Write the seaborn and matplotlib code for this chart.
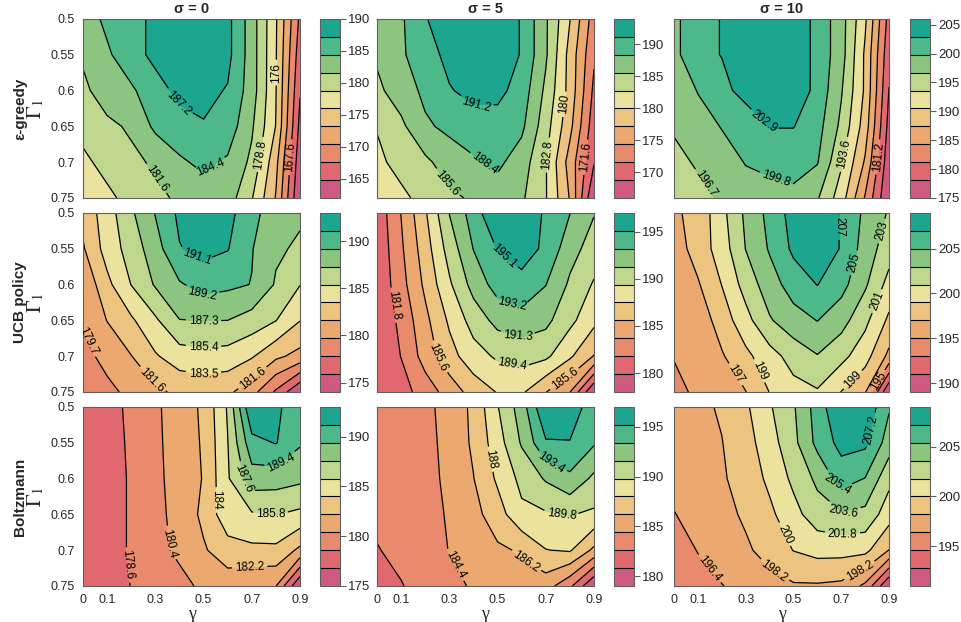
import numpy as np
import matplotlib
matplotlib.use("Agg")
import matplotlib.pyplot as plt
import seaborn as sns

# grid of the simulations
gamma = [0.0, 0.1, 0.2, 0.3, 0.4, 0.5, 0.6, 0.7, 0.8, 0.9]
gamma1 = [0.5, 0.55, 0.6, 0.65, 0.7, 0.75]
sigmas = ["0", "5", "10"]
policies = ["ε-greedy", "UCB policy", "Boltzmann"]

# mean reward, rows = Gamma1 (0.5 .. 0.75), columns = gamma (0 .. 0.9)
egreedy_s0 = [
    [183, 185, 186, 188, 190, 190, 188, 183, 176.3, 167],
    [182, 184, 186, 188, 189, 189, 188, 183, 176.2, 166],
    [181, 183, 184, 186, 188, 188, 187, 183, 176.1, 165],
    [180, 181, 182, 185, 186, 187, 186, 182, 175.9, 164],
    [178, 180, 181, 182, 184, 185, 184, 181, 174, 163],
    [177, 178, 180, 181, 182, 183, 183, 179, 173, 162],
]
egreedy_s5 = [
    [187, 188, 191, 193, 194, 193, 191, 186, 180.1, 173],
    [186, 188, 190, 192, 193, 193, 191, 186, 179, 172],
    [185, 187, 189, 191, 192, 192, 190, 185, 179, 171],
    [183, 185, 188, 189, 190, 190, 189, 184, 178, 170],
    [182, 184, 185, 187, 188, 189, 187, 183, 176, 169],
    [181, 182, 184, 185, 186, 187, 186, 183, 177, 166],
]
egreedy_s10 = [
    [199, 202, 203, 205, 206, 205, 202, 198, 191, 180],
    [199, 202, 203, 205, 205, 205, 202, 198, 190, 179],
    [197, 200, 202, 204, 205, 205, 202, 197, 190, 178],
    [197, 198, 200, 201, 203, 203, 201, 196, 189, 177],
    [196, 197, 198, 200, 201, 201, 200, 194, 187, 176],
    [195, 196, 197, 198, 198, 199, 197, 192, 184, 175],
]
ucb_s0 = [
    [182.2, 184.5, 187.0, 189.3, 191.5, 193.0, 191.8, 189.6, 188.5, 187.6],
    [181.4, 184.3, 186.2, 188.4, 191.0, 191.7, 191.2, 189.3, 187.6, 187.0],
    [180.0, 183.0, 185.45, 187.5, 189.0, 189.9, 189.6, 189.15, 187.1, 185.45],
    [179.9, 181.65, 183.2, 185.1, 187.25, 187.35, 187.3, 186.5, 185.45, 183.55],
    [179.2, 180.2, 181.55, 183.3, 184.5, 184.8, 184.6, 183.7, 182.0, 181.0],
    [178.3, 179.3, 180.1, 181.2, 182.0, 182.2, 182.0, 180.4, 177.5, 174.0],
]
ucb_s5 = [
    [180.5, 183.75, 187.25, 191.35, 194.1, 197.0, 196.6, 194.8, 193.25, 191.4],
    [180.3, 183.4, 186.6, 190.2, 193.25, 195.2, 195.8, 194.8, 192.0, 190.5],
    [180.2, 183.0, 186.0, 189.1, 192.0, 194.0, 194.6, 193.25, 191.0, 189.2],
    [180.1, 182.3, 185.1, 187.8, 190.2, 191.9, 192.4, 191.8, 189.9, 188.0],
    [180.1, 181.85, 184.5, 186.8, 188.6, 189.7, 190.1, 189.8, 187.8, 185.5],
    [180.2, 181.0, 182.7, 184.5, 186.4, 187.6, 187.8, 185.65, 183.75, 178.0],
]
ucb_s10 = [
    [196.7, 197.6, 200.4, 203.4, 205.6, 207.8, 209.0, 206.8, 204.6, 202.8],
    [196.0, 197.85, 199.95, 203.05, 205.2, 207.4, 208.0, 206.9, 204.1, 201.9],
    [195.6, 196.8, 199.05, 201.8, 204.1, 205.9, 207.05, 205.7, 203.3, 200.3],
    [195.3, 195.8, 197.9, 200.3, 202.8, 204.2, 205.05, 203.8, 201.5, 198.6],
    [195.05, 195.6, 196.8, 198.5, 200.2, 201.8, 202.9, 201.6, 199.8, 196.5],
    [194.7, 195.2, 196.1, 196.95, 199.05, 200.3, 200.8, 198.95, 197.2, 189.0],
]
boltz_s0 = [
    [177.4, 177.9, 179.0, 180.1, 181.3, 182.5, 186.0, 193.0, 191.4, 190.6],
    [177.3, 177.8, 178.9, 180.05, 181.2, 182.4, 185.75, 190.6, 191.3, 189.6],
    [177.2, 177.8, 178.8, 180.0, 181.1, 182.3, 185.6, 188.6, 188.4, 188.0],
    [177.2, 177.8, 178.8, 179.9, 181.0, 182.6, 185.2, 185.6, 185.85, 185.4],
    [177.1, 177.8, 178.8, 179.8, 180.8, 182.0, 183.2, 183.6, 183.6, 181.8],
    [177.0, 177.6, 178.65, 179.4, 179.8, 180.8, 181.2, 180.6, 180.45, 175.0],
]
boltz_s5 = [
    [183.5, 183.7, 184.0, 185.0, 186.6, 189.7, 192.5, 197.0, 196.5, 194.0],
    [183.3, 183.5, 183.9, 184.9, 186.5, 189.0, 191.8, 195.0, 195.1, 193.6],
    [183.2, 183.4, 183.8, 184.8, 186.15, 188.3, 190.3, 191.8, 193.0, 191.2],
    [183.0, 183.3, 183.7, 184.6, 185.6, 187.2, 189.4, 189.6, 189.9, 189.5],
    [182.5, 183.1, 183.6, 184.45, 185.1, 185.9, 186.4, 187.95, 188.2, 185.8],
    [181.5, 182.5, 183.3, 183.9, 184.6, 185.3, 185.6, 185.2, 183.0, 179.0],
]
boltz_s10 = [
    [197.2, 197.8, 198.4, 199.7, 201.6, 203.4, 206.2, 209.0, 208.6, 205.6],
    [197.0, 197.5, 198.15, 199.3, 201.0, 203.1, 205.9, 207.8, 207.6, 204.5],
    [196.8, 197.3, 198.0, 198.9, 200.4, 202.2, 204.0, 206.2, 205.35, 202.3],
    [196.35, 196.9, 197.6, 198.5, 199.6, 201.2, 202.8, 203.4, 203.1, 200.8],
    [195.8, 196.45, 197.1, 197.9, 198.9, 200.05, 200.6, 200.6, 200.5, 198.15],
    [195.5, 195.9, 196.35, 196.9, 197.5, 198.0, 198.0, 197.8, 196.0, 191.0],
]

# contour levels that carry a label in each panel
labels_eg = [[187.2, 184.4, 181.6, 178.8, 176, 167.6],
             [191.2, 188.4, 185.6, 182.8, 180, 171.6],
             [202.9, 199.8, 196.7, 193.6, 181.2]]
labels_ucb = [[191.1, 189.2, 187.3, 185.4, 183.5, 181.6, 179.7],
              [195.1, 193.2, 191.3, 189.4, 185.6, 181.8],
              [207, 205, 203, 201, 199, 197, 195]]
labels_bz = [[189.4, 187.6, 185.8, 184, 182.2, 180.4, 178.6],
             [193.4, 189.8, 188, 186.2, 184.4],
             [207.2, 205.4, 203.6, 201.8, 200, 198.2, 196.4]]

# where the labels sit on the lines (gamma, Gamma1)
label_spots = [
    [[(0.41, 0.614), (0.51, 0.70), (0.29, 0.726), (0.75, 0.69), (0.80, 0.575), (0.855, 0.693)],
     [(0.41, 0.62), (0.465, 0.693), (0.295, 0.728), (0.705, 0.69), (0.80, 0.62), (0.86, 0.693)],
     [(0.405, 0.634), (0.435, 0.714), (0.155, 0.725), (0.727, 0.69), (0.865, 0.693)]],
    [[(0.495, 0.547), (0.50, 0.609), (0.50, 0.651), (0.50, 0.687), (0.50, 0.723),
      (0.28, 0.735), (0.685, 0.723), (0.035, 0.676)],
     [(0.545, 0.552), (0.57, 0.619), (0.59, 0.666), (0.567, 0.701), (0.26, 0.70),
      (0.77, 0.728), (0.065, 0.629)],
     [(0.70, 0.52), (0.756, 0.57), (0.852, 0.524), (0.84, 0.622), (0.36, 0.72),
      (0.74, 0.73), (0.24, 0.729), (0.862, 0.736)]],
    [[(0.81, 0.573), (0.65, 0.602), (0.777, 0.654), (0.55, 0.63), (0.69, 0.717),
      (0.37, 0.69), (0.175, 0.721)],
     [(0.74, 0.565), (0.77, 0.642), (0.455, 0.574), (0.605, 0.723), (0.34, 0.718)],
     [(0.815, 0.531), (0.705, 0.602), (0.705, 0.641), (0.705, 0.679), (0.45, 0.68),
      (0.42, 0.728), (0.77, 0.724), (0.155, 0.724)]],
]

grids = [[egreedy_s0, egreedy_s5, egreedy_s10],
         [ucb_s0, ucb_s5, ucb_s10],
         [boltz_s0, boltz_s5, boltz_s10]]
label_sets = [labels_eg, labels_ucb, labels_bz]

sns.set_style("white")
plt.rcParams['font.family'] = ['Liberation Sans', 'DejaVu Sans']
plt.rcParams['mathtext.fontset'] = 'stix'

band_colors = sns.color_palette(["#cf5a7f", "#e1686f", "#e88a6b", "#eba86f", "#edc47f",
                                 "#eae29d", "#bed78c", "#8bc57f", "#4db98a", "#1ca68f"])
frame_col = "#606060"


def fmt_level(v):
    s = "%.1f" % v
    return s[:-2] if s.endswith(".0") else s


fig = plt.figure(figsize=(9.61, 6.22), dpi=100)

lefts = [0.0864, 0.3923, 0.7014]
widths = [0.2258, 0.2258, 0.2237]
cb_lefts = [0.3330, 0.6389, 0.9469]
cb_width = 0.0208
bottoms = [0.6817, 0.3698, 0.0579]
height = 0.2880

for r in range(3):
    for c in range(3):
        z = np.array(grids[r][c], dtype=float)
        levels = np.linspace(z.min(), z.max(), 11)
        wanted = label_sets[r][c]
        is_lab = np.array([any(abs(lv - w) < 0.05 for w in wanted) for lv in levels])
        ax = fig.add_axes([lefts[c], bottoms[r], widths[c], height])
        cf = ax.contourf(gamma, gamma1, z, levels=levels, colors=band_colors)
        ax.contour(gamma, gamma1, z, levels=levels[~is_lab], colors="black", linewidths=0.9)
        cl = ax.contour(gamma, gamma1, z, levels=levels[is_lab], colors="black", linewidths=0.9)
        ax.set_xlim(0, 0.9)
        ax.set_ylim(0.75, 0.5)
        ax.clabel(cl, fmt=fmt_level, fontsize=8.5, inline=True,
                  inline_spacing=3, manual=label_spots[r][c])
        ax.set_xticks(gamma)
        ax.set_yticks(gamma1)
        if r == 2:
            ax.set_xticklabels(["0", "0.1", "", "0.3", "", "0.5", "", "0.7", "", "0.9"])
            ax.set_xlabel("γ", family="Liberation Serif", fontsize=13, labelpad=0)
        else:
            ax.set_xticklabels([])
        if c == 0:
            ax.set_yticklabels(["0.5", "0.55", "0.6", "0.65", "0.7", "0.75"])
            ax.set_ylabel(r"$\Gamma_1$", fontsize=15, labelpad=3)
        else:
            ax.set_yticklabels([])
        ax.tick_params(direction="out", length=4, width=0.8, color=frame_col,
                       labelsize=9, pad=2)
        for sp in ax.spines.values():
            sp.set_color(frame_col)
            sp.set_linewidth(0.8)
        if r == 0:
            ax.set_title("σ = " + sigmas[c], fontsize=10.5, fontweight="bold", pad=4)

        cax = fig.add_axes([cb_lefts[c], bottoms[r], cb_width, height])
        cb = fig.colorbar(cf, cax=cax, drawedges=True)
        cb.dividers.set_color("black")
        cb.dividers.set_linewidth(0.8)
        cb.outline.set_edgecolor(frame_col)
        cb.outline.set_linewidth(0.8)
        t0 = np.ceil(z.min() / 5.0) * 5
        ticks = np.arange(t0, z.max() + 0.01, 5)
        cb.set_ticks(ticks)
        cb.set_ticklabels(["%d" % t for t in ticks])
        cax.tick_params(direction="out", length=4, width=0.8, color=frame_col,
                        labelsize=9.5, pad=2)

    fig.text(0.021, bottoms[r] + height / 2, policies[r], rotation=90, ha="center",
             va="center", fontsize=11, fontweight="bold")

fig.savefig("out.png", dpi=100)
